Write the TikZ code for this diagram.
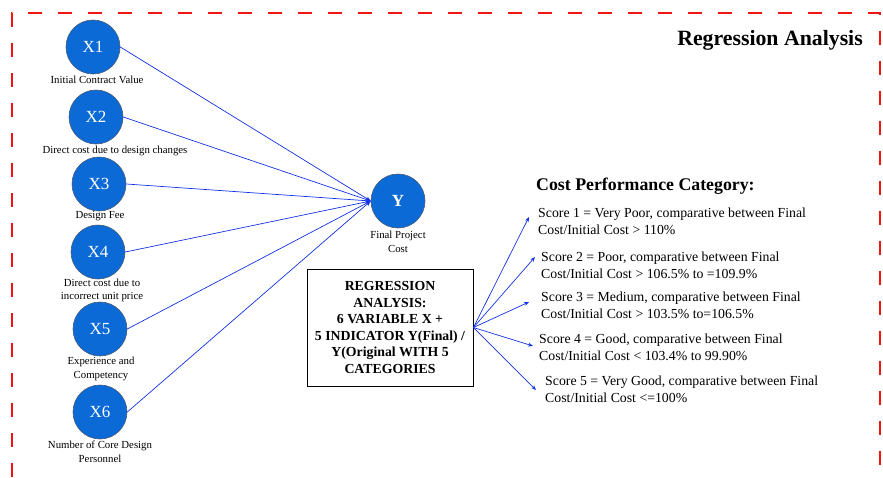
\documentclass[tikz,border=0pt]{standalone}
\usepackage{fontspec}
\setmainfont{Liberation Serif}
\usetikzlibrary{arrows.meta}
\definecolor{nodeblue}{RGB}{11,106,214}
\definecolor{nodeedge}{RGB}{70,90,120}
\definecolor{linkblue}{RGB}{20,50,230}
\definecolor{framered}{RGB}{240,20,20}
\tikzset{
  varnode/.style={circle, fill=nodeblue, draw=nodeedge, line width=0.6pt,
    minimum size=54pt, inner sep=0pt, text=white, font=\fontsize{17}{17}\selectfont},
  caption/.style={align=center, inner sep=0pt, font=\fontsize{10.8}{13.5}\selectfont},
  link/.style={draw=linkblue, line width=0.7pt, -{Stealth[length=5pt,width=4pt]}},
  scoretext/.style={anchor=west, align=left, inner sep=0pt, font=\fontsize{13.8}{16.8}\selectfont},
  frame/.style={draw=framered, line width=1.6pt, dash pattern=on 14pt off 16pt}
}
\begin{document}
\begin{tikzpicture}[x=1pt, y=-1pt]
\useasboundingbox (0,0) rectangle (883,477);
% dashed frame, open at the bottom
\draw[frame] (12,477) -- (12,13) -- (880,13) -- (880,477);
\node[font=\fontsize{21.8}{22}\selectfont\bfseries, anchor=east, inner sep=0pt] (title) at (863,40) {Regression Analysis};

% independent variables
\node[varnode] (x1) at (93,47) {X1};
\node[varnode] (x2) at (96,117) {X2};
\node[varnode] (x3) at (99,184) {X3};
\node[varnode] (x4) at (98,252) {X4};
\node[varnode] (x5) at (100,329) {X5};
\node[varnode] (x6) at (100,412) {X6};

\node[caption] (l1) at (97,80) {Initial Contract Value};
\node[caption] (l2) at (115,151) {Direct cost due to design changes};
\node[caption] (l3) at (100,216) {Design Fee};
\node[caption] (l4) at (102,290.5) {Direct cost due to\\incorrect unit price};
\node[caption] (l5) at (101,369) {Experience and\\Competency};
\node[caption] (l6) at (100,451.5) {Number of Core Design\\Personnel};

% dependent variable
\node[varnode, font=\fontsize{17}{17}\selectfont\bfseries] (y) at (398,201) {Y};
\node[caption] (ly) at (398,242) {Final Project\\Cost};

\foreach \v in {x1,x2,x3,x4,x5,x6}
  \draw[link] (\v.east) -- (y.west);

% regression box
\node[draw, line width=0.8pt, minimum width=166pt, minimum height=117pt, align=center,
  inner sep=0pt, font=\fontsize{13.8}{16.6}\selectfont\bfseries] (box) at (390,327.5)
  {REGRESSION\\ANALYSIS:\\6 VARIABLE X +\\5 INDICATOR Y(Final) /\\Y(Original WITH 5\\CATEGORIES};

% categories
\node[anchor=west, inner sep=0pt, font=\fontsize{17.8}{18}\selectfont\bfseries] (cat) at (536,186) {Cost Performance Category:};
\node[scoretext] (s1) at (538,221.5) {Score 1 = Very Poor, comparative between Final\\Cost/Initial Cost > 110\%};
\node[scoretext] (s2) at (541,265) {Score 2 = Poor, comparative between Final\\Cost/Initial Cost > 106.5\% to =109.9\%};
\node[scoretext] (s3) at (541,305) {Score 3 = Medium, comparative between Final\\Cost/Initial Cost > 103.5\% to=106.5\%};
\node[scoretext] (s4) at (539,347.5) {Score 4 = Good, comparative between Final\\Cost/Initial Cost < 103.4\% to 99.90\%};
\node[scoretext] (s5) at (545,389.5) {Score 5 = Very Good, comparative between Final\\Cost/Initial Cost <=100\%};

\coordinate (t1) at (529,217);
\coordinate (t2) at (535,257);
\coordinate (t3) at (529,302);
\coordinate (t4) at (533,346);
\coordinate (t5) at (536,390);
\foreach \t in {t1,t2,t3,t4,t5}
  \draw[link] (box.east) -- (\t);
\end{tikzpicture}
\end{document}
